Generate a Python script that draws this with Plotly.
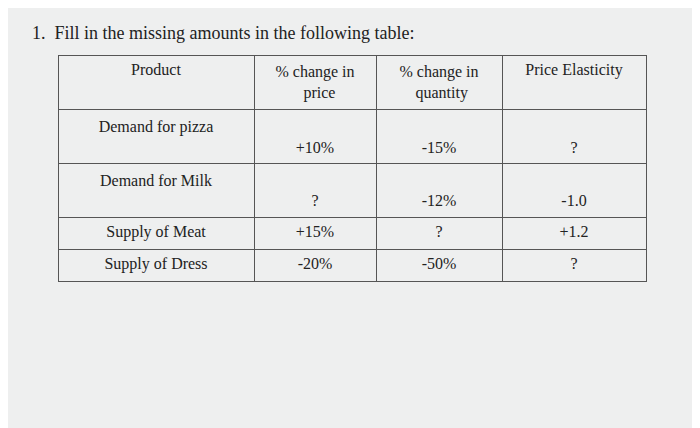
import plotly.graph_objects as go

title = "1.  Fill in the missing amounts in the following table:"
nb = "\u00a0"
headers = ["Product", "% change in<br>" + nb * 7 + "price", "% change in<br>" + nb * 4 + "quantity", "Price Elasticity"]
products = ["Demand for pizza", "Demand for Milk", "Supply of Meat", "Supply of Dress"]
price_change = ["+10%", "?", "+15%", "-20%"]
qty_change = ["-15%", "-12%", "?", "-50%"]
elasticity = ["?", "-1.0", "+1.2", "?"]
tall_rows = [True, True, False, False]

bg = "#eeefef"

def col(vals, first=False):
    out = []
    for v, tall in zip(vals, tall_rows):
        if tall:
            out.append(v + "<br> " if first else " <br>" + v)
        else:
            out.append(v)
    return out

fnt = dict(family="Liberation Serif", size=16, color="#222")
fig = go.Figure(go.Table(
    domain=dict(x=[50 / 700, 638 / 700], y=[0, 1 - 47 / 428]),
    columnwidth=[196, 122, 126, 144],
    header=dict(values=headers, align="center", height=26,
                fill_color=bg, line=dict(color="#555", width=1), font=fnt),
    cells=dict(values=[col(products, True), col(price_change), col(qty_change), col(elasticity)],
               align="center", height=32,
               fill_color=bg, line=dict(color="#555", width=1), font=fnt),
))

fig.add_annotation(text=title, x=22 / 700, y=1 - 25 / 428, xref="paper", yref="paper",
                   xanchor="left", yanchor="middle", showarrow=False,
                   font=dict(family="Liberation Serif", size=18, color="#222"))

fig.update_layout(width=700, height=428, margin=dict(l=0, r=0, t=0, b=0),
                  paper_bgcolor=bg, plot_bgcolor=bg)
fig.write_html("out.html")
